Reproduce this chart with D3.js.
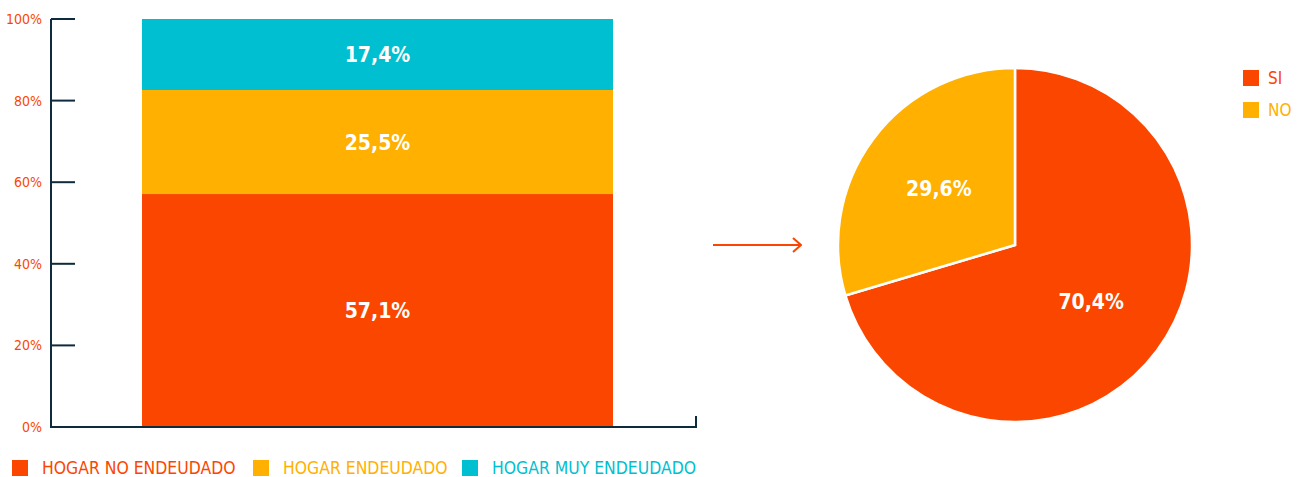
<!DOCTYPE html>
<html>
<head>
<meta charset="utf-8">
<script src="https://cdn.jsdelivr.net/npm/d3@7"></script>
<style>
  body { margin: 0; background: #fff; }
  svg text { font-family: "DejaVu Sans Condensed", "Liberation Sans Narrow", sans-serif; }
</style>
</head>
<body>
<div id="chart"></div>
<script>
// stacked bar data
var barSeries = ["HOGAR NO ENDEUDADO", "HOGAR ENDEUDADO", "HOGAR MUY ENDEUDADO"];
var barValues = [57.1, 25.5, 17.4];
var barLabels = ["57,1%", "25,5%", "17,4%"];
var yTicks = [0, 20, 40, 60, 80, 100];

// pie data
var pieCategories = ["SI", "NO"];
var pieValues = [70.4, 29.6];
var pieLabels = ["70,4%", "29,6%"];

var colors = ["#fb4600", "#ffb000", "#00bfd0"];
var axisColor = "#0e2a3d";

var svg = d3.select("#chart").append("svg")
    .attr("width", 1302)
    .attr("height", 477);

// ---- stacked bar ----
var y = d3.scaleLinear().domain([0, 100]).range([427, 19]);

var g = svg.append("g");

var stack = [];
var acc = 0;
barValues.forEach(function(v, i) {
    stack.push({ key: barSeries[i], y0: acc, y1: acc + v, label: barLabels[i], i: i });
    acc += v;
});

var bx0 = 142, bx1 = 613;
g.selectAll(".seg")
    .data(stack)
    .enter().append("rect")
    .attr("class", "seg")
    .attr("x", bx0)
    .attr("width", bx1 - bx0)
    .attr("y", d => y(Math.min(d.y1, 100)))
    .attr("height", d => y(d.y0) - y(Math.min(d.y1, 100)))
    .attr("fill", d => colors[d.i]);

g.selectAll(".seg-label")
    .data(stack)
    .enter().append("text")
    .attr("x", (bx0 + bx1) / 2)
    .attr("y", d => (y(d.y0) + y(Math.min(d.y1, 100))) / 2)
    .attr("dy", "0.36em")
    .attr("text-anchor", "middle")
    .attr("fill", "#fff")
    .attr("font-weight", "bold")
    .attr("font-size", 21)
    .text(d => d.label);

// y axis
var yAxis = d3.axisLeft(y).tickValues(yTicks).tickSize(0).tickFormat(d => d + "%");
var ya = g.append("g").attr("transform", "translate(51,0)").call(yAxis);
ya.select(".domain").remove();
ya.selectAll("text")
    .attr("x", -9)
    .attr("fill", "#fb4600")
    .attr("font-size", 14)
    .style("font-family", "'DejaVu Sans Condensed', sans-serif");
g.selectAll(".ytick")
    .data(yTicks)
    .enter().append("line")
    .attr("x1", 51).attr("x2", 75)
    .attr("y1", d => y(d)).attr("y2", d => y(d))
    .attr("stroke", axisColor).attr("stroke-width", 2);

g.append("path")
    .attr("d", "M51," + y(100) + "V" + y(0) + "H696V" + (y(0) - 11))
    .attr("fill", "none")
    .attr("stroke", axisColor)
    .attr("stroke-width", 2);

// bottom legend
var legX = [12, 253, 462];
var leg = g.selectAll(".leg")
    .data(barSeries)
    .enter().append("g")
    .attr("transform", (d, i) => "translate(" + legX[i] + ",460)");
leg.append("rect")
    .attr("width", 16).attr("height", 16)
    .attr("fill", (d, i) => colors[i]);
leg.append("text")
    .attr("x", 30).attr("y", 8).attr("dy", "0.36em")
    .attr("fill", (d, i) => colors[i])
    .attr("font-size", 17.4)
    .text(d => d);

// arrow
var defs = svg.append("defs");
defs.append("marker")
    .attr("id", "arrow")
    .attr("viewBox", "0 0 10 16")
    .attr("refX", 9).attr("refY", 8)
    .attr("markerWidth", 10).attr("markerHeight", 16)
    .attr("markerUnits", "userSpaceOnUse")
    .attr("orient", "auto")
    .append("path")
    .attr("d", "M1,1L9,8L1,15")
    .attr("fill", "none")
    .attr("stroke", "#fb4600")
    .attr("stroke-width", 2);
svg.append("line")
    .attr("x1", 713).attr("x2", 801)
    .attr("y1", 245).attr("y2", 245)
    .attr("stroke", "#fb4600").attr("stroke-width", 2)
    .attr("marker-end", "url(#arrow)");

// ---- pie ----
var cx = 1015, cy = 245, r = 177;
var pie = d3.pie().sort(null).value(d => d);
var arcs = pie(pieValues);
var arc = d3.arc().innerRadius(0).outerRadius(r);
var labelArc = d3.arc().innerRadius(95).outerRadius(95);

var pg = svg.append("g").attr("transform", "translate(" + cx + "," + cy + ")");
pg.selectAll(".slice")
    .data(arcs)
    .enter().append("path")
    .attr("d", arc)
    .attr("fill", (d, i) => colors[i])
    .attr("stroke", "#fff")
    .attr("stroke-width", 2.5);

pg.selectAll(".slice-label")
    .data(arcs)
    .enter().append("text")
    .attr("transform", d => "translate(" + labelArc.centroid(d) + ")")
    .attr("dy", "0.36em")
    .attr("text-anchor", "middle")
    .attr("fill", "#fff")
    .attr("font-weight", "bold")
    .attr("font-size", 21)
    .text((d, i) => pieLabels[i]);

// pie legend
var pl = svg.selectAll(".pleg")
    .data(pieCategories)
    .enter().append("g")
    .attr("transform", (d, i) => "translate(1243," + (70 + i * 32) + ")");
pl.append("rect")
    .attr("width", 16).attr("height", 16)
    .attr("fill", (d, i) => colors[i]);
pl.append("text")
    .attr("x", 25).attr("y", 8).attr("dy", "0.36em")
    .attr("fill", (d, i) => colors[i])
    .attr("font-size", 17)
    .text(d => d);
</script>
</body>
</html>
